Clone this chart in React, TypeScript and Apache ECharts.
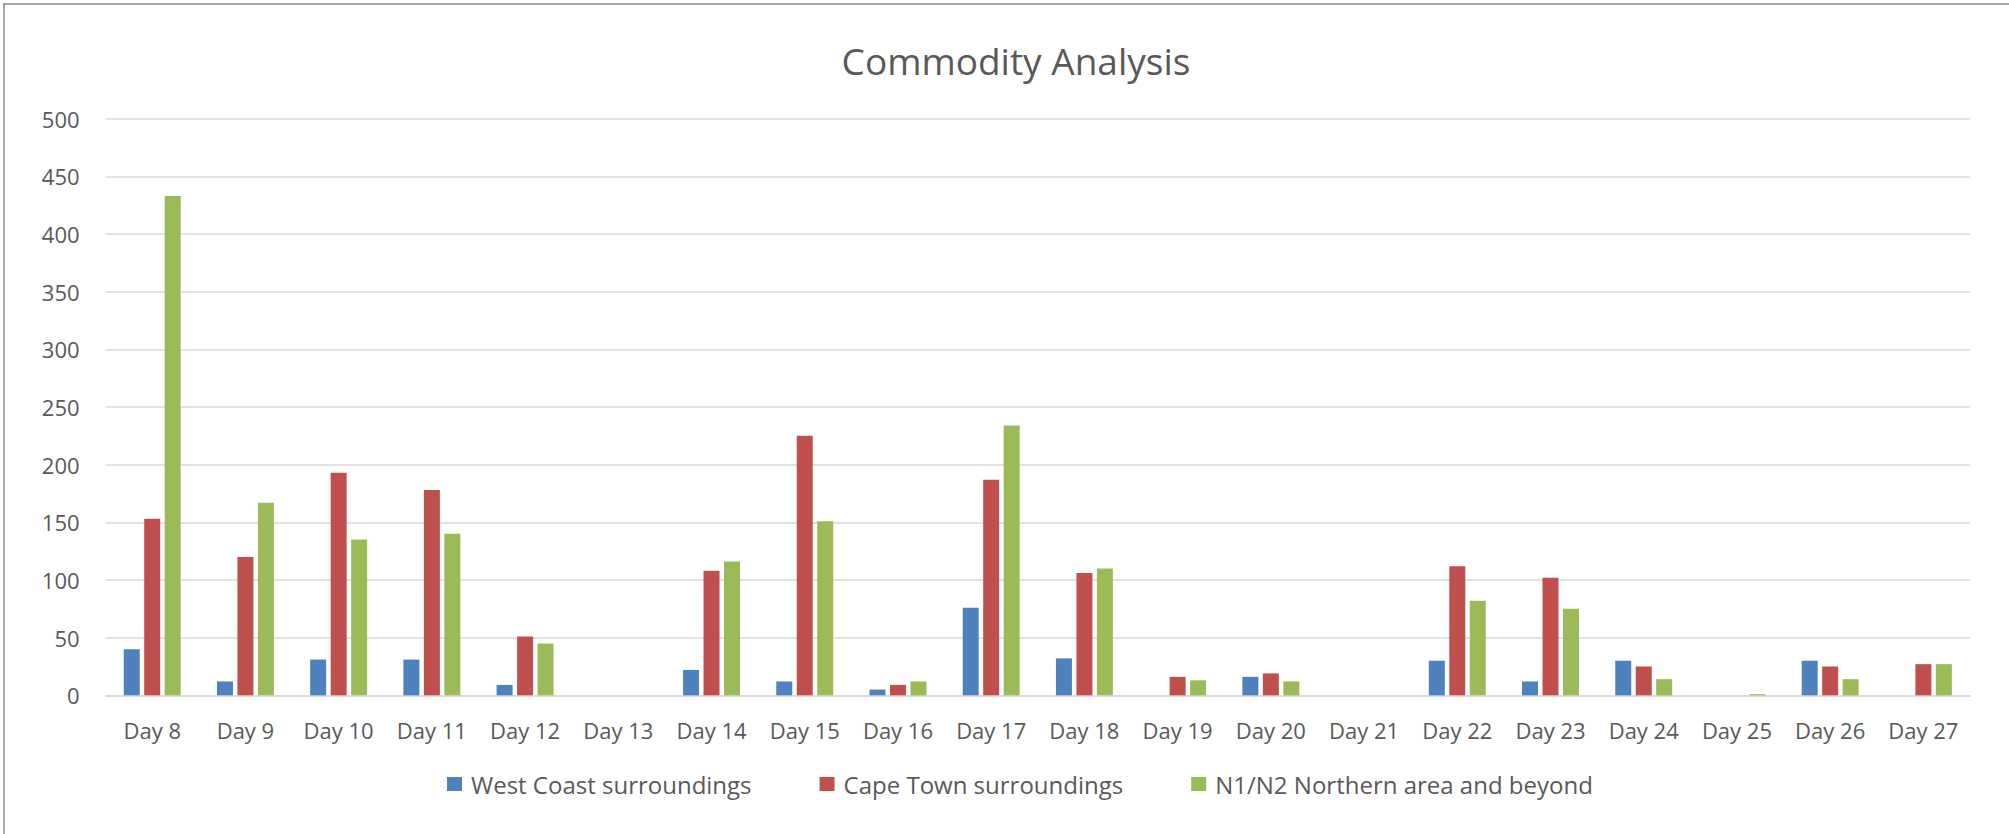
import React, { useEffect, useRef } from "react";
import * as echarts from "echarts";

const categories = [
  "Day 8", "Day 9", "Day 10", "Day 11", "Day 12", "Day 13", "Day 14", "Day 15", "Day 16", "Day 17",
  "Day 18", "Day 19", "Day 20", "Day 21", "Day 22", "Day 23", "Day 24", "Day 25", "Day 26", "Day 27",
];
const westCoast = [40, 12, 31, 31, 9, 0, 22, 12, 5, 76, 32, 0, 16, 0, 30, 12, 30, 0, 30, 0];
const capeTown = [153, 120, 193, 178, 51, 0, 108, 225, 9, 187, 106, 16, 19, 0, 112, 102, 25, 0, 25, 27];
const northern = [433, 167, 135, 140, 45, 0, 116, 151, 12, 234, 110, 13, 12, 0, 82, 75, 14, 1, 14, 27];
const seriesNames = ["West Coast surroundings", "Cape Town surroundings", "N1/N2 Northern area and beyond"];
const colors = ["#4F81BD", "#C0504D", "#9BBB59"];

const FONT = "'Open Sans', Lato, sans-serif";
const TEXT = "#595959";

export default function App() {
  const ref = useRef<HTMLDivElement>(null);
  useEffect(() => {
    if (!ref.current) return;
    const chart = echarts.init(ref.current, undefined, { renderer: "svg" });
    const values = [westCoast, capeTown, northern];
    chart.setOption({
      animation: false,
      backgroundColor: "#ffffff",
      color: colors,
      title: {
        text: "Commodity Analysis",
        left: 1011,
        textAlign: "center",
        top: 37,
        textStyle: { fontFamily: FONT, fontSize: 37, fontWeight: "normal", color: TEXT },
      },
      legend: {
        data: seriesNames,
        top: 767,
        left: 442,
        itemWidth: 15,
        itemHeight: 14,
        itemGap: 68,
        icon: "rect",
        textStyle: { fontFamily: FONT, fontSize: 24, color: TEXT, padding: [0, 0, 0, 4] },
      },
      grid: { left: 105.6, right: 39, top: 118.7, bottom: 138.7, containLabel: false },
      xAxis: {
        type: "category",
        data: categories,
        axisLine: { show: true, lineStyle: { color: "#D9D9D9", width: 1.5 } },
        axisTick: { show: false },
        axisLabel: { fontFamily: FONT, fontSize: 22, color: TEXT, margin: 24, interval: 0 },
      },
      yAxis: {
        type: "value",
        min: 0,
        max: 500,
        interval: 50,
        axisLine: { show: false },
        axisTick: { show: false },
        axisLabel: { fontFamily: FONT, fontSize: 22, color: TEXT, margin: 26 },
        splitLine: { lineStyle: { color: "#D9D9D9", width: 1.5 } },
      },
      series: seriesNames.map((name, i) => ({
        name,
        type: "bar",
        data: values[i],
        barWidth: 16,
        barGap: "28%",
        itemStyle: { color: colors[i] },
      })),
      graphic: [
        { type: "line", shape: { x1: 3, y1: 4, x2: 2009, y2: 4 }, style: { stroke: "#8C8C8C", lineWidth: 1.5 } },
        { type: "line", shape: { x1: 4, y1: 3, x2: 4, y2: 834 }, style: { stroke: "#8C8C8C", lineWidth: 1.5 } },
      ],
    });
    return () => chart.dispose();
  }, []);
  return (
    <div
      ref={ref}
      style={{ position: "absolute", left: 0, top: 0, width: 2009, height: 834 }}
    />
  );
}
